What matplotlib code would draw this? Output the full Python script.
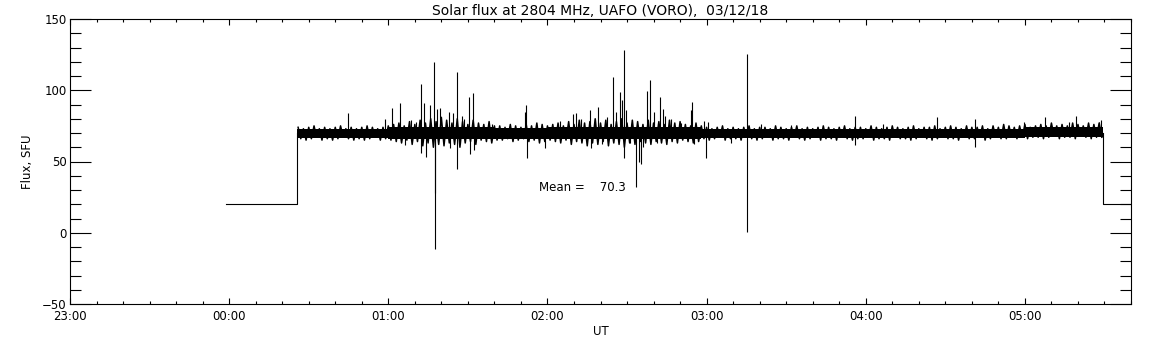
import numpy as np
import matplotlib
matplotlib.use("Agg")
import matplotlib.pyplot as plt
from matplotlib.ticker import MultipleLocator, FixedLocator

# time is in minutes after 00:00 UT (negative = previous day)
tick_minutes = [-60, 0, 60, 120, 180, 240, 300]
tick_labels = ['23:00', '00:00', '01:00', '02:00', '03:00', '04:00', '05:00']

# receiver off / calibration level
off_before_t = [-1.0, 25.4]
off_after_t = [329.5, 340.0]
off_level = 20.0

# noisy flux trace, read as upper peaks (every 2 min from 26)
# and lower dips (every 2 min from 27)
env_start = 26
hi_a = [74, 73, 74, 75, 73, 74, 73, 74, 75, 73, 74, 73, 74, 75, 74, 73, 74, 75]
lo_a = [66, 65, 66, 67, 65, 66, 65, 66, 67, 66, 65, 66, 65, 66, 67, 65, 66, 65]
hi_b = [76, 77, 75, 78, 76, 79, 77, 80, 78, 81, 79, 77, 80, 78, 76, 79, 77, 76, 78, 75]
lo_b = [64, 63, 65, 62, 64, 61, 63, 60, 62, 61, 63, 62, 60, 63, 64, 62, 65, 64, 63, 65]
hi_c = [75, 74, 76, 75, 74, 76, 75, 77, 76, 75]
lo_c = [65, 66, 64, 65, 66, 64, 65, 63, 64, 65]
hi_d = [76, 77, 75, 78, 76, 79, 77, 78, 80, 77, 79, 76, 78, 80, 77, 79, 78, 76, 79, 77,
        78, 76, 79, 77, 78, 76, 75, 77]
lo_d = [64, 63, 65, 62, 64, 63, 61, 63, 62, 64, 61, 63, 62, 60, 63, 62, 64, 63, 62, 64,
        63, 62, 64, 63, 65, 64, 63, 64]
hi_e = [75, 74, 73, 74, 75, 73, 74, 73, 74, 75, 73, 74, 74, 73, 75, 74, 73, 74, 75, 73,
        74, 73, 74, 75, 74, 73, 74, 75, 73, 74, 74, 73, 75, 74, 73, 74, 75, 74, 73, 74,
        75, 73, 74, 74, 75, 73, 74, 75, 74, 73, 75, 74, 74, 75, 73, 75, 74, 76, 75, 74,
        75, 76, 74, 75, 76, 75, 77, 75, 76, 75, 77, 76, 75, 77, 76, 77]
lo_e = [66, 65, 66, 67, 65, 66, 66, 65, 67, 66, 65, 66, 67, 65, 66, 66, 65, 67, 66, 65,
        66, 67, 65, 66, 66, 65, 67, 66, 65, 66, 66, 67, 65, 66, 66, 65, 67, 66, 66, 65,
        66, 67, 66, 65, 66, 67, 66, 66, 65, 67, 66, 66, 67, 65, 66, 67, 66, 66, 67, 66,
        67, 66, 67, 67, 66, 67, 68, 66, 67, 67, 66, 68, 67, 66, 67, 67]

# dense core of the noise band, per time block
core_edges = [25.4, 60, 100, 120, 178, 300, 329.5]
core_hi = [73.0, 74.0, 73.5, 74.5, 73.0, 74.0]
core_lo = [66.5, 65.5, 66.0, 65.5, 66.5, 67.0]

# bursts / spikes (time, value), drawn from the 70 sfu level
spike_t = [44.7, 58.6, 61.4, 64.5, 66.4, 68.7, 70.6, 72.3, 72.4, 73.3, 74.3, 75.8,
           77.1, 77.5, 77.7, 78.4, 79.4, 82.9, 83.4, 84.5, 85.8, 85.9, 87.2, 87.9,
           88.7, 90.6, 90.7, 92.1, 92.3, 99.1, 111.7, 112.1, 112.2, 119.2, 124.9,
           129.8, 130.6, 132.5, 136.2, 136.3, 138.1, 139.2, 140.4, 142.6, 144.6,
           145.9, 147.3, 148.1, 148.8, 148.9, 149.7, 151.3, 153.3, 154.7, 155.3,
           156.2, 157.6, 158.6, 160.0, 161.4, 162.3, 163.4, 164.5, 166.4, 170.2,
           174.0, 174.5, 175.1, 179.2, 179.7, 180.4, 189.1, 195.3, 195.4, 200.4,
           211.7, 235.8, 235.9, 246.4, 266.7, 281.2, 281.3, 299.6, 307.6, 316.6,
           319.2, 327.9, 328.6]
spike_v = [84.3, 79.8, 87.3, 91.3, 61.6, 79.0, 78.0, 104.6, 55.7, 90.8, 53.4, 90.0,
           120.0, -11.6, 28.0, 86.8, 87.3, 85.0, 59.3, 84.0, 113.0, 44.8, 62.0, 82.0,
           80.0, 95.5, 55.0, 97.8, 58.0, 76.5, 85.0, 89.6, 52.2, 59.3, 78.5,
           83.0, 83.8, 80.0, 86.1, 59.3, 80.0, 88.5, 62.0, 81.0, 109.0,
           85.0, 98.5, 93.0, 128.2, 52.7, 86.0, 63.0, 32.3, 49.9, 48.0,
           60.5, 99.5, 107.0, 85.0, 63.0, 95.0, 86.5, 82.0, 80.0, 77.0,
           86.1, 91.5, 62.0, 78.4, 52.7, 78.0, 62.8, 125.4, 0.3, 76.0,
           75.5, 81.9, 61.6, 76.5, 81.2, 79.8, 60.4, 78.0, 81.2, 77.5,
           82.2, 78.0, 79.0]
mean_flux = 70.3

hi_vals = np.array(hi_a + hi_b + hi_c + hi_d + hi_e, dtype=float)
lo_vals = np.array(lo_a + lo_b + lo_c + lo_d + lo_e, dtype=float)
t_hi = env_start + 2 * np.arange(len(hi_vals))
t_lo = env_start + 1 + 2 * np.arange(len(lo_vals))
# samples in time order: peak, dip, peak, dip ...
trace_t = np.column_stack([t_hi, t_lo]).ravel()
trace_v = np.column_stack([hi_vals, lo_vals]).ravel()

fig = plt.figure(figsize=(11.52, 3.45), dpi=100)
ax = fig.add_axes([70 / 1152, 1 - 304 / 345, (1131 - 70) / 1152, (304 - 19) / 345])

lw = 0.8
ax.plot([off_before_t[0], off_before_t[1], off_before_t[1]],
        [off_level, off_level, 70], color='k', lw=lw)
ax.plot([off_after_t[0], off_after_t[0], off_after_t[1]],
        [70, off_level, off_level], color='k', lw=lw)
ax.fill_between(core_edges, np.append(core_lo, core_lo[-1]), np.append(core_hi, core_hi[-1]),
                step='post', color='k', lw=0)
ax.plot(trace_t, trace_v, color='k', lw=1.1)
ax.vlines(spike_t, 70, spike_v, color='k', lw=lw)

ax.text(117, 31.5, 'Mean =    %.1f' % mean_flux, fontsize=8.5, va='center', ha='left')

ax.set_xlim(-60, 340)
ax.set_ylim(-50, 150)
ax.xaxis.set_major_locator(FixedLocator(tick_minutes))
ax.set_xticklabels(tick_labels)
ax.xaxis.set_minor_locator(MultipleLocator(10))
ax.yaxis.set_major_locator(MultipleLocator(50))
ax.yaxis.set_minor_locator(MultipleLocator(10))
ax.tick_params(axis='x', which='major', direction='in', length=4.1, width=0.8,
               top=True, labelsize=8.5, pad=4)
ax.tick_params(axis='x', which='minor', direction='in', length=2.1, width=0.8, top=True)
ax.tick_params(axis='y', which='major', direction='in', length=15, width=0.8,
               right=True, labelsize=8.5, pad=2.5)
ax.tick_params(axis='y', which='minor', direction='in', length=7.6, width=0.8, right=True)
for s in ax.spines.values():
    s.set_linewidth(0.8)

ax.set_xlabel('UT', fontsize=8.5, labelpad=2)
ax.set_ylabel('Flux, SFU', fontsize=8.5, labelpad=6)
ax.set_title('Solar flux at 2804 MHz, UAFO (VORO),  03/12/18', fontsize=10, pad=3)

fig.savefig('out.png', dpi=100)
